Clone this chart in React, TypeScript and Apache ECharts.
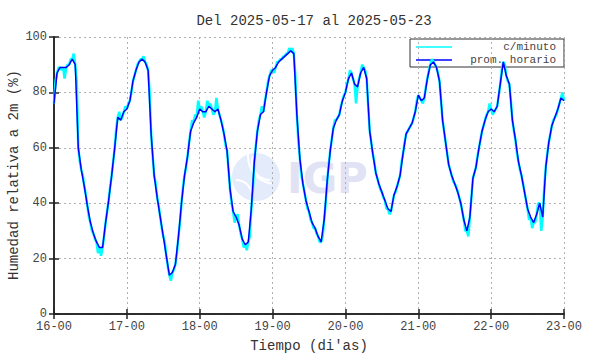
import React, { useEffect, useRef } from "react";
import * as echarts from "echarts";

const dayLabels = ["16-00", "17-00", "18-00", "19-00", "20-00", "21-00", "22-00", "23-00"];

// hourly averages (prom. horario), one array per day, 24 values each
const hourly16 = [76, 87, 89, 89, 89, 90, 92, 90, 60, 52, 46, 39, 33, 29, 26, 24, 24, 33, 41, 50, 60, 71, 70, 73];
const hourly17 = [74, 77, 84, 88, 91, 92, 91, 88, 65, 50, 42, 35, 28, 21, 14, 15, 18, 28, 40, 50, 57, 66, 69, 71];
const hourly18 = [74, 73, 73, 75, 74, 73, 74, 70, 65, 59, 45, 37, 35, 32, 27, 25, 26, 38, 55, 66, 72, 73, 80, 86];
const hourly19 = [88, 89, 91, 92, 93, 94, 95, 94, 72, 56, 47, 41, 37, 33, 31, 28, 26, 34, 48, 59, 67, 70, 72, 77];
const hourly20 = [80, 85, 87, 83, 82, 87, 89, 85, 66, 58, 51, 47, 44, 41, 38, 37, 43, 46, 50, 58, 65, 67, 69, 73];
const hourly21 = [79, 77, 78, 85, 90, 91, 89, 84, 70, 62, 54, 50, 47, 44, 40, 34, 30, 35, 49, 53, 60, 66, 70, 73];
const hourly22 = [74, 73, 75, 83, 91, 86, 83, 70, 63, 55, 50, 44, 38, 35, 33, 36, 40, 35, 53, 62, 68, 71, 74, 78];
const hourlyLast = [77];

// per-minute record (c/minuto), sampled at half past each hour
const minute16 = [84, 89, 88, 85, 90, 92, 94, 84, 55, 50, 43, 35, 30, 27, 22, 21, 28, 37, 46, 55, 67, 73, 71, 75];
const minute17 = [76, 80, 86, 90, 92, 93, 90, 80, 57, 47, 39, 31, 26, 17, 12, 16, 22, 33, 46, 53, 62, 70, 72, 77];
const minute18 = [75, 71, 77, 76, 72, 78, 72, 68, 61, 52, 40, 33, 36, 29, 24, 23, 28, 45, 61, 70, 75, 77, 84, 88];
const minute19 = [87, 91, 92, 93, 94, 96, 96, 86, 62, 50, 44, 38, 34, 31, 29, 26, 28, 40, 54, 63, 70, 71, 75, 79];
const minute20 = [83, 88, 85, 76, 85, 90, 88, 75, 62, 55, 49, 45, 42, 38, 36, 40, 44, 48, 55, 62, 66, 68, 71, 77];
const minute21 = [78, 76, 82, 88, 92, 90, 87, 77, 66, 58, 52, 48, 46, 42, 37, 30, 28, 42, 51, 57, 63, 68, 72, 76];
const minute22 = [72, 74, 79, 88, 90, 84, 77, 66, 58, 52, 47, 41, 34, 31, 33, 40, 30, 46, 58, 65, 70, 72, 76, 80];

const hourly = [...hourly16, ...hourly17, ...hourly18, ...hourly19, ...hourly20, ...hourly21, ...hourly22, ...hourlyLast];
const minuteMid = [...minute16, ...minute17, ...minute18, ...minute19, ...minute20, ...minute21, ...minute22];

const FONT = "Liberation Mono";

export default function App() {
  const ref = useRef<HTMLDivElement>(null);
  useEffect(() => {
    document.body.style.margin = "0";
    if (!ref.current) return;
    const chart = echarts.init(ref.current, null, { renderer: "svg" });
    const blueData = hourly.map((v, i) => [i, v]);
    const cyanData: number[][] = [];
    for (let i = 0; i < minuteMid.length; i++) {
      cyanData.push([i, hourly[i]]);
      cyanData.push([i + 0.5, minuteMid[i]]);
    }
    cyanData.push([hourly.length - 1, hourly[hourly.length - 1]]);

    const axisLine = { show: true, lineStyle: { color: "#222", width: 1.5 } };
    const tickIn = { show: true, inside: true, length: 5, lineStyle: { color: "#222", width: 1.5 } };
    const labelStyle = { fontFamily: FONT, fontSize: 12, color: "#444" };

    chart.setOption({
      animation: false,
      backgroundColor: "#fff",
      title: {
        text: "Del 2025-05-17 al 2025-05-23",
        left: 309,
        top: 9,
        textAlign: "center",
        textStyle: { fontFamily: FONT, fontSize: 14, fontWeight: "normal", color: "#333" },
      },
      grid: { left: 54, right: 26, top: 37, bottom: 40, outerBoundsMode: "none", containLabel: false },
      xAxis: [
        {
          type: "value",
          min: 0,
          max: 168,
          interval: 24,
          position: "bottom",
          name: "Tiempo (di'as)",
          nameLocation: "middle",
          nameGap: 25,
          nameTextStyle: { fontFamily: FONT, fontSize: 14, color: "#333" },
          axisLine,
          axisTick: tickIn,
          axisLabel: { ...labelStyle, margin: 7, formatter: (v: number) => dayLabels[Math.round(v / 24)] ?? "" },
          splitLine: { show: true, lineStyle: { color: "#b0b0b0", type: [2, 3], width: 1 } },
        },
        {
          type: "value",
          min: 0,
          max: 168,
          interval: 24,
          position: "top",
          axisLine,
          axisTick: tickIn,
          axisLabel: { show: false },
          splitLine: { show: false },
        },
      ],
      yAxis: [
        {
          type: "value",
          min: 0,
          max: 100,
          interval: 20,
          position: "left",
          axisLine,
          axisTick: tickIn,
          axisLabel: { ...labelStyle, margin: 7 },
          splitLine: { show: true, lineStyle: { color: "#b0b0b0", type: [2, 3], width: 1 } },
        },
        {
          type: "value",
          min: 0,
          max: 100,
          interval: 20,
          position: "right",
          axisLine,
          axisTick: tickIn,
          axisLabel: { show: false },
          splitLine: { show: false },
        },
      ],
      graphic: [
        {
          type: "text",
          x: 14,
          y: 175,
          rotation: Math.PI / 2,
          style: {
            text: "Humedad relativa a 2m (%)",
            font: `14px '${FONT}'`,
            fill: "#333",
            align: "center",
            verticalAlign: "middle",
          },
        },
        {
          type: "group",
          z: 0,
          silent: true,
          children: [
            { type: "circle", shape: { cx: 256, cy: 177, r: 24 }, style: { fill: "#e4ecfb" } },
            { type: "arc", shape: { cx: 270, cy: 162, r: 18, startAngle: Math.PI * 0.5, endAngle: Math.PI * 1.1 }, style: { stroke: "#ffffff", lineWidth: 2, fill: "none" } },
            { type: "arc", shape: { cx: 276, cy: 156, r: 28, startAngle: Math.PI * 0.55, endAngle: Math.PI * 1.05 }, style: { stroke: "#ffffff", lineWidth: 2, fill: "none" } },
            { type: "arc", shape: { cx: 236, cy: 196, r: 16, startAngle: Math.PI * 1.5, endAngle: Math.PI * 2.1 }, style: { stroke: "#ffffff", lineWidth: 2, fill: "none" } },
            {
              type: "text",
              x: 287,
              y: 178,
              style: { text: "IGP", font: "bold 42px 'DejaVu Sans'", fill: "#e2e2f5", verticalAlign: "middle", align: "left" },
            },
          ],
        },
        {
          type: "group",
          z: 100,
          children: [
            { type: "rect", shape: { x: 410, y: 39, width: 154, height: 28 }, style: { fill: "#ffffff", stroke: "#333", lineWidth: 1 } },
            { type: "line", shape: { x1: 416, y1: 47, x2: 452, y2: 47 }, style: { stroke: "#00ffff", lineWidth: 1.5 } },
            {
              type: "text",
              x: 556,
              y: 47,
              style: { text: "c/minuto", font: `11px '${FONT}'`, fill: "#444", align: "right", verticalAlign: "middle" },
            },
            { type: "line", shape: { x1: 416, y1: 60, x2: 452, y2: 60 }, style: { stroke: "#0000ff", lineWidth: 1.5 } },
            {
              type: "text",
              x: 556,
              y: 60,
              style: { text: "prom. horario", font: `11px '${FONT}'`, fill: "#444", align: "right", verticalAlign: "middle" },
            },
          ],
        },
      ],
      series: [
        {
          name: "c/minuto",
          type: "line",
          data: cyanData,
          showSymbol: false,
          symbol: "none",
          lineStyle: { color: "#00ffff", width: 2.5 },
          z: 3,
        },
        {
          name: "prom. horario",
          type: "line",
          data: blueData,
          showSymbol: false,
          symbol: "none",
          lineStyle: { color: "#0000ff", width: 1.5 },
          z: 4,
        },
      ],
    });
    return () => chart.dispose();
  }, []);
  return <div ref={ref} style={{ width: 590, height: 354 }} />;
}
